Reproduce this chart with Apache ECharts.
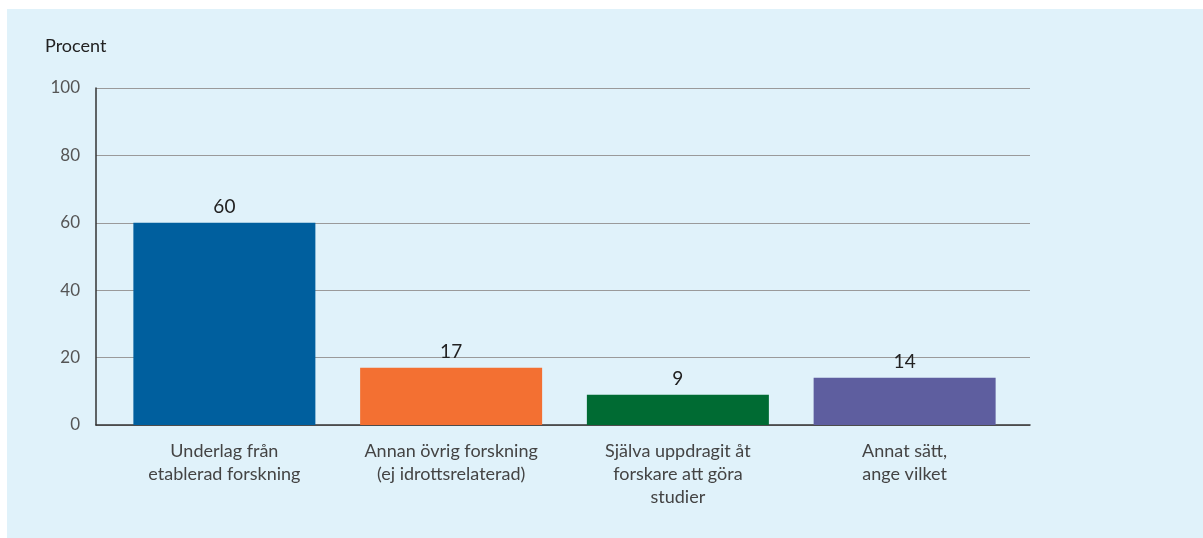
<!DOCTYPE html>
<html>
<head>
<meta charset="utf-8">
<script src="https://cdn.jsdelivr.net/npm/echarts@6/dist/echarts.min.js"></script>
<style>
  html, body { margin: 0; padding: 0; background: #ffffff; }
  #main { width: 1203px; height: 538px; }
</style>
</head>
<body>
<div id="main"></div>
<script>
// chart data
const categories = [
    'Underlag från\netablerad forskning',
    'Annan övrig forskning\n(ej idrottsrelaterad)',
    'Själva uppdragit åt\nforskare att göra\nstudier',
    'Annat sätt,\nange vilket'
];
const values = [60, 17, 9, 14];
const barColors = ['#005f9e', '#f37032', '#006b33', '#5e5e9f'];
const yTicks = [0, 20, 40, 60, 80, 100];

const fontFamily = 'Lato, "Open Sans", sans-serif';

let myChart = echarts.init(document.getElementById('main'));

let options = {
    animation: false,
    graphic: [
        {
            type: 'rect',
            z: -10,
            shape: { x: 7, y: 9, width: 1196, height: 529 },
            style: { fill: '#e0f2fa' }
        },
        {
            type: 'text',
            left: 45,
            top: 37,
            style: { text: 'Procent', fill: '#222', font: '18px ' + fontFamily }
        }
    ],
    grid: [
        // frame grid: y axis, gridlines and baseline
        { left: 96, right: 173, top: 88, bottom: 113 },
        // bar grid, slightly narrower than the frame
        { left: 111, right: 185, top: 88, bottom: 113 }
    ],
    xAxis: [
        {
            gridIndex: 0,
            type: 'category',
            data: categories,
            axisLine: { lineStyle: { color: '#333', width: 1.5 } },
            axisTick: { show: false },
            axisLabel: { show: false }
        },
        {
            gridIndex: 1,
            type: 'category',
            data: categories,
            axisLine: { show: false },
            axisTick: { show: false },
            axisLabel: {
                color: '#444',
                fontSize: 18,
                lineHeight: 23,
                fontFamily: fontFamily,
                margin: 15,
                interval: 0
            }
        }
    ],
    yAxis: [
        {
            gridIndex: 0,
            type: 'value',
            min: yTicks[0],
            max: yTicks[yTicks.length - 1],
            interval: yTicks[1] - yTicks[0],
            axisLine: { show: true, lineStyle: { color: '#333', width: 1.5 } },
            axisTick: { show: false },
            splitLine: { lineStyle: { color: '#9a9a9a', width: 1.2 } },
            axisLabel: {
                color: '#555',
                fontSize: 17,
                fontFamily: fontFamily,
                margin: 16
            }
        },
        {
            gridIndex: 1,
            type: 'value',
            min: yTicks[0],
            max: yTicks[yTicks.length - 1],
            show: false
        }
    ],
    series: [{
        type: 'bar',
        xAxisIndex: 1,
        yAxisIndex: 1,
        barWidth: 182,
        z: 3,
        data: values.map((v, i) => ({ value: v, itemStyle: { color: barColors[i] } })),
        label: {
            show: true,
            position: 'top',
            distance: 6,
            color: '#222',
            fontSize: 19,
            fontFamily: fontFamily
        }
    }]
};

myChart.setOption(options);
</script>
</body>
</html>
